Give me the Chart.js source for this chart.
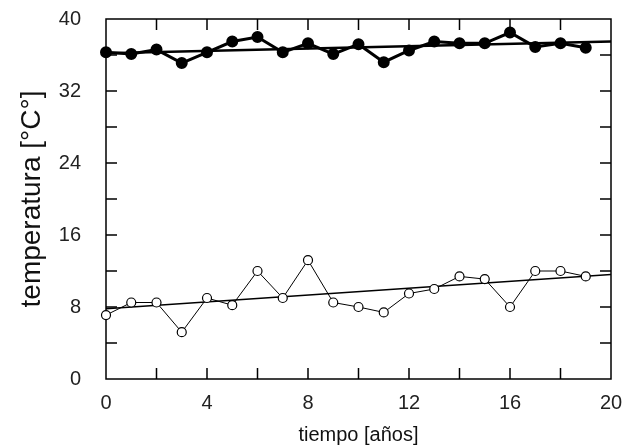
<!DOCTYPE html>
<html>
<head>
<meta charset="utf-8">
<script src="https://cdn.jsdelivr.net/npm/chart.js@4.4.0/dist/chart.umd.min.js"></script>
<style>
  body { margin: 0; background: #fff; }
  #wrap { width: 637px; height: 448px; }
</style>
</head>
<body>
<div id="wrap"><canvas id="chart" width="637" height="448"></canvas></div>
<script>
// years on the x axis
const years = [0, 1, 2, 3, 4, 5, 6, 7, 8, 9, 10, 11, 12, 13, 14, 15, 16, 17, 18, 19];
// upper series (filled dots)
const tempHigh = [36.3, 36.1, 36.6, 35.1, 36.3, 37.5, 38.0, 36.3, 37.3, 36.1,
                  37.2, 35.2, 36.5, 37.5, 37.3, 37.3, 38.5, 36.9, 37.3, 36.8];
// lower series (open dots)
const tempLow = [7.1, 8.5, 8.5, 5.2, 9.0, 8.2, 12.0, 9.0, 13.2, 8.5,
                 8.0, 7.4, 9.5, 10.0, 11.4, 11.1, 8.0, 12.0, 12.0, 11.4];
// fitted trend lines, start and end
const trendX = [0, 20];
const trendHigh = [36.2, 37.5];
const trendLow = [7.8, 11.6];

const xTicks = [0, 4, 8, 12, 16, 20];
const yTicks = [0, 8, 16, 24, 32, 40];

const toPts = (xs, ys) => xs.map((x, i) => ({ x: x, y: ys[i] }));

// frame with inward ticks on all four sides
const framePlugin = {
  id: 'frame',
  beforeDatasetsDraw(chart) {
    const { ctx, chartArea: a, scales } = chart;
    const len = 11;
    ctx.save();
    ctx.strokeStyle = '#000';
    ctx.lineWidth = 1.5;
    ctx.strokeRect(a.left, a.top, a.right - a.left, a.bottom - a.top);
    ctx.beginPath();
    for (let v = 2; v < 20; v += 2) {
      const px = scales.x.getPixelForValue(v);
      ctx.moveTo(px, a.bottom); ctx.lineTo(px, a.bottom - len);
      ctx.moveTo(px, a.top); ctx.lineTo(px, a.top + len);
    }
    for (let v = 4; v < 40; v += 4) {
      const py = scales.y.getPixelForValue(v);
      ctx.moveTo(a.left, py); ctx.lineTo(a.left + len, py);
      ctx.moveTo(a.right, py); ctx.lineTo(a.right - len, py);
    }
    ctx.stroke();
    ctx.restore();
  }
};

new Chart(document.getElementById('chart'), {
  type: 'line',
  data: {
    datasets: [
      {
        data: toPts(years, tempHigh),
        borderColor: '#000', borderWidth: 3,
        pointRadius: 4.5, pointBackgroundColor: '#000', pointBorderColor: '#000',
        tension: 0, clip: false
      },
      {
        data: toPts(years, tempLow),
        borderColor: '#000', borderWidth: 1,
        pointRadius: 4.5, pointBackgroundColor: '#fff', pointBorderColor: '#000', pointBorderWidth: 1.2,
        tension: 0, clip: false
      },
      {
        data: toPts(trendX, trendHigh),
        borderColor: '#000', borderWidth: 2.5, pointRadius: 0, clip: false
      },
      {
        data: toPts(trendX, trendLow),
        borderColor: '#000', borderWidth: 1.5, pointRadius: 0, clip: false
      }
    ]
  },
  options: {
    responsive: false,
    animation: false,
    layout: { padding: { top: 19, right: 26, left: 0, bottom: 0 } },
    plugins: { legend: { display: false }, tooltip: { enabled: false } },
    scales: {
      x: {
        type: 'linear', min: 0, max: 20,
        afterFit(s) { s.height = 69; s.paddingLeft = 0; s.paddingRight = 0; },
        afterBuildTicks(s) { s.ticks = xTicks.map(v => ({ value: v })); },
        grid: { display: false },
        border: { display: false },
        ticks: { color: '#222', padding: 4, font: { family: 'Liberation Sans', size: 20 } },
        title: {
          display: true, text: 'tiempo [años]', color: '#111',
          padding: { top: 0, bottom: 1 },
          font: { family: 'Liberation Sans', size: 20 }
        }
      },
      y: {
        type: 'linear', min: 0, max: 40,
        afterFit(s) { s.width = 106; s.paddingTop = 0; s.paddingBottom = 0; },
        afterBuildTicks(s) { s.ticks = yTicks.map(v => ({ value: v })); },
        grid: { display: false },
        border: { display: false },
        ticks: { color: '#222', padding: 17, font: { family: 'Liberation Sans', size: 20 } },
        title: {
          display: true, text: 'temperatura [°C°]', color: '#111',
          padding: { top: 15, bottom: 0 },
          font: { family: 'Liberation Sans', size: 28 }
        }
      }
    }
  },
  plugins: [framePlugin]
});
</script>
</body>
</html>
